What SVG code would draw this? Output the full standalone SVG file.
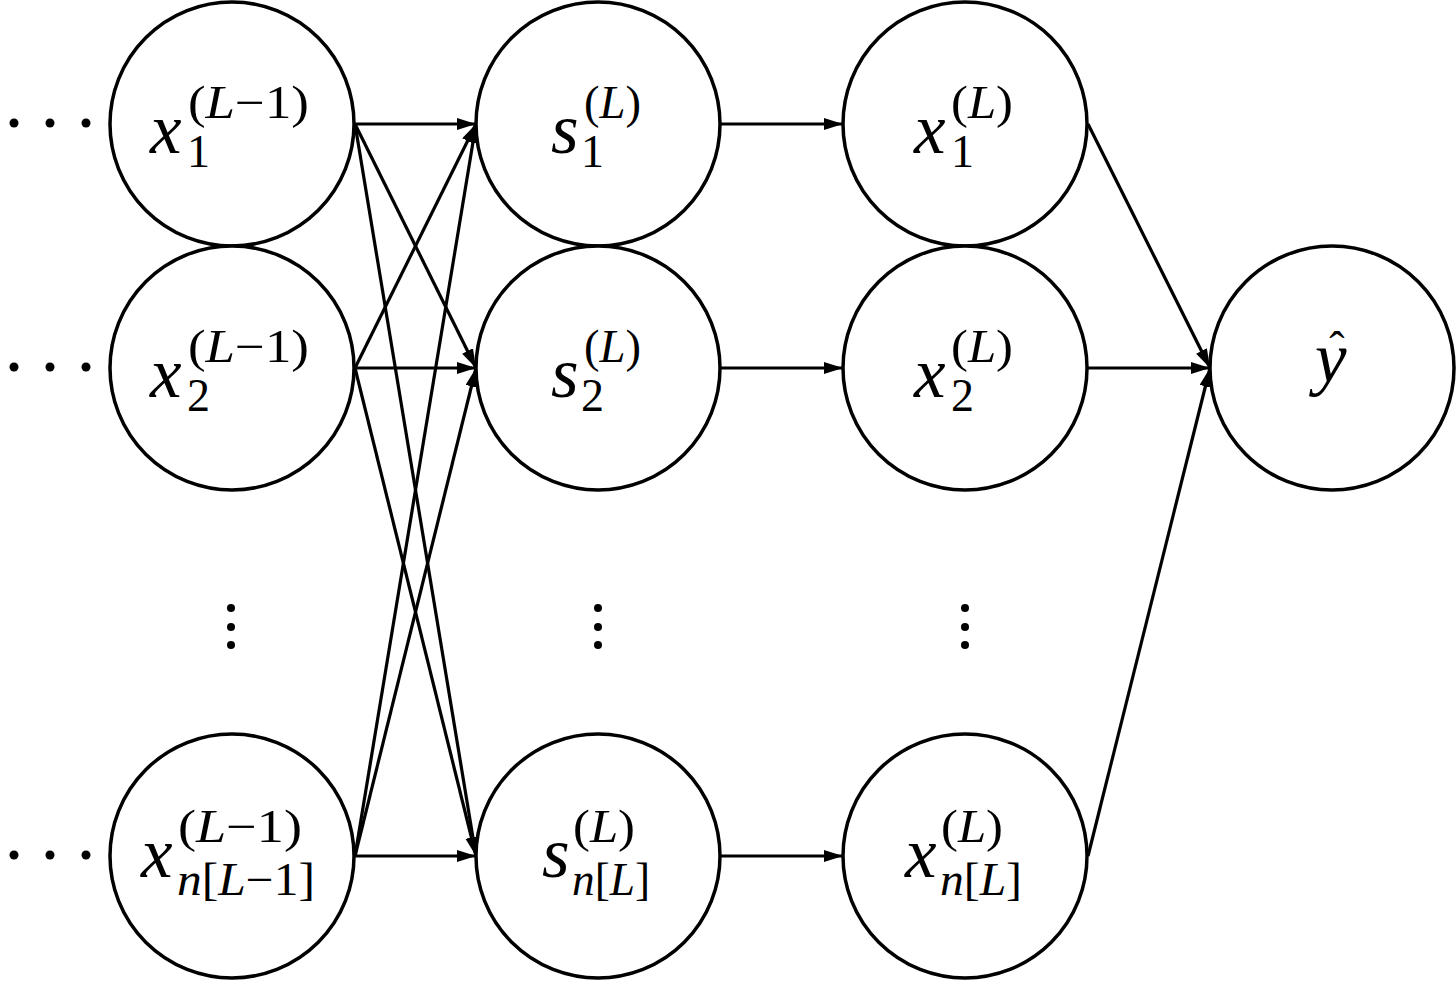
<svg xmlns="http://www.w3.org/2000/svg" width="1456" height="981" viewBox="0 0 1456 981">
<style>
.node{fill:#fff;stroke:#000;stroke-width:3.5}
.edge{stroke:#000;stroke-width:3.2;fill:none;marker-end:url(#ah)}
.m{font-style:italic;font-size:71px;fill:#000}
.s{font-size:46px;fill:#000}
.i{font-style:italic}
.dot{fill:#000}
</style>
<defs>
<marker id="ah" markerUnits="userSpaceOnUse" markerWidth="20" markerHeight="13" refX="19" refY="6" orient="auto">
<path d="M0,0 L19,6 L0,12 z" fill="#000"/>
</marker>
</defs>
<g id="connectors">
<line class="edge" x1="355" y1="124" x2="476" y2="124"/>
<line class="edge" x1="355" y1="124" x2="476" y2="368"/>
<line class="edge" x1="355" y1="124" x2="476" y2="856"/>
<line class="edge" x1="355" y1="368" x2="476" y2="124"/>
<line class="edge" x1="355" y1="368" x2="476" y2="368"/>
<line class="edge" x1="355" y1="368" x2="476" y2="856"/>
<line class="edge" x1="355" y1="856" x2="476" y2="124"/>
<line class="edge" x1="355" y1="856" x2="476" y2="368"/>
<line class="edge" x1="355" y1="856" x2="476" y2="856"/>
<line class="edge" x1="721" y1="124" x2="843" y2="124"/>
<line class="edge" x1="721" y1="368" x2="843" y2="368"/>
<line class="edge" x1="721" y1="856" x2="843" y2="856"/>
<line class="edge" x1="1088" y1="124" x2="1210" y2="368"/>
<line class="edge" x1="1088" y1="368" x2="1210" y2="368"/>
<line class="edge" x1="1088" y1="856" x2="1210" y2="368"/>
</g>
<g id="ellipsis">
<circle class="dot" cx="14" cy="123" r="4.5"/><circle class="dot" cx="50" cy="123" r="4.5"/><circle class="dot" cx="86" cy="123" r="4.5"/>
<circle class="dot" cx="14" cy="367" r="4.5"/><circle class="dot" cx="50" cy="367" r="4.5"/><circle class="dot" cx="86" cy="367" r="4.5"/>
<circle class="dot" cx="14" cy="855" r="4.5"/><circle class="dot" cx="50" cy="855" r="4.5"/><circle class="dot" cx="86" cy="855" r="4.5"/>
<circle class="dot" cx="231" cy="608" r="4"/><circle class="dot" cx="231" cy="627" r="4"/><circle class="dot" cx="231" cy="645" r="4"/>
<circle class="dot" cx="598" cy="608" r="4"/><circle class="dot" cx="598" cy="627" r="4"/><circle class="dot" cx="598" cy="645" r="4"/>
<circle class="dot" cx="965" cy="608" r="4"/><circle class="dot" cx="965" cy="627" r="4"/><circle class="dot" cx="965" cy="645" r="4"/>
</g>
<g font-family="Liberation Serif, serif">
<g id="x1_prev">
<circle class="node" cx="232" cy="124" r="122"/>
<text class="m" x="150" y="153">x</text>
<text class="s" x="187" y="167">1</text>
<text class="s" x="188" y="118" textLength="121" lengthAdjust="spacingAndGlyphs">(<tspan class="i">L</tspan>−1)</text>
</g>
<g id="x2_prev">
<circle class="node" cx="232" cy="368" r="122"/>
<text class="m" x="150" y="397">x</text>
<text class="s" x="187" y="411">2</text>
<text class="s" x="188" y="362" textLength="121" lengthAdjust="spacingAndGlyphs">(<tspan class="i">L</tspan>−1)</text>
</g>
<g id="xn_prev">
<circle class="node" cx="232" cy="856" r="122"/>
<text class="m" x="141" y="877">x</text>
<text class="s" x="178" y="842" textLength="124" lengthAdjust="spacingAndGlyphs">(<tspan class="i">L</tspan>−1)</text>
<text class="s" x="177" y="895" textLength="138" lengthAdjust="spacingAndGlyphs"><tspan class="i">n</tspan>[<tspan class="i">L</tspan>−1]</text>
</g>
<g id="s1">
<circle class="node" cx="598" cy="124" r="122"/>
<text class="m" x="551" y="153">s</text>
<text class="s" x="581" y="167">1</text>
<text class="s" x="584" y="118" textLength="57" lengthAdjust="spacingAndGlyphs">(<tspan class="i">L</tspan>)</text>
</g>
<g id="s2">
<circle class="node" cx="598" cy="368" r="122"/>
<text class="m" x="551" y="397">s</text>
<text class="s" x="581" y="411">2</text>
<text class="s" x="584" y="362" textLength="57" lengthAdjust="spacingAndGlyphs">(<tspan class="i">L</tspan>)</text>
</g>
<g id="sn">
<circle class="node" cx="598" cy="856" r="122"/>
<text class="m" x="542" y="877">s</text>
<text class="s" x="573" y="842" textLength="62" lengthAdjust="spacingAndGlyphs">(<tspan class="i">L</tspan>)</text>
<text class="s" x="572" y="895" textLength="78" lengthAdjust="spacingAndGlyphs"><tspan class="i">n</tspan>[<tspan class="i">L</tspan>]</text>
</g>
<g id="x1_L">
<circle class="node" cx="965" cy="124" r="122"/>
<text class="m" x="914" y="153">x</text>
<text class="s" x="951" y="167">1</text>
<text class="s" x="951" y="118" textLength="62" lengthAdjust="spacingAndGlyphs">(<tspan class="i">L</tspan>)</text>
</g>
<g id="x2_L">
<circle class="node" cx="965" cy="368" r="122"/>
<text class="m" x="914" y="397">x</text>
<text class="s" x="951" y="411">2</text>
<text class="s" x="951" y="362" textLength="62" lengthAdjust="spacingAndGlyphs">(<tspan class="i">L</tspan>)</text>
</g>
<g id="xn_L">
<circle class="node" cx="965" cy="856" r="122"/>
<text class="m" x="905" y="877">x</text>
<text class="s" x="941" y="842" textLength="62" lengthAdjust="spacingAndGlyphs">(<tspan class="i">L</tspan>)</text>
<text class="s" x="940" y="895" textLength="82" lengthAdjust="spacingAndGlyphs"><tspan class="i">n</tspan>[<tspan class="i">L</tspan>]</text>
</g>
<g id="yhat">
<circle class="node" cx="1332" cy="368" r="122"/>
<text class="m" x="1315" y="382">y</text>
<text class="s" x="1337" y="364" font-size="40" text-anchor="middle">ˆ</text>
</g>
</g>
</svg>
